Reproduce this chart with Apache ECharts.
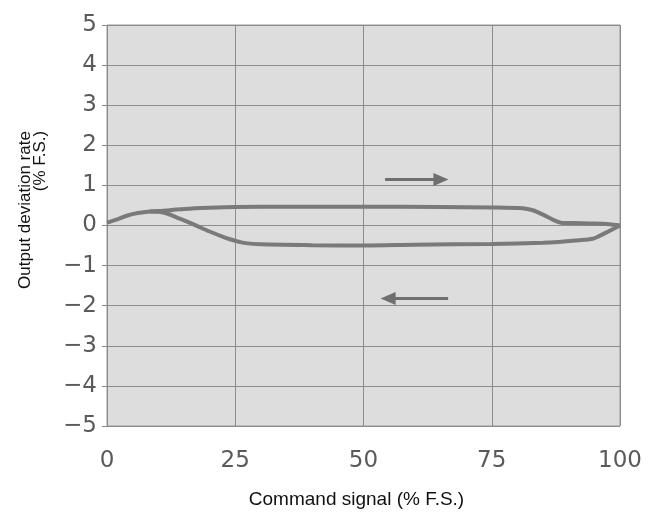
<!DOCTYPE html>
<html>
<head>
<meta charset="utf-8">
<script src="https://cdn.jsdelivr.net/npm/echarts@6/dist/echarts.min.js"></script>
<style>html,body{margin:0;padding:0;background:#fff}#c{width:659px;height:514px}</style>
</head>
<body>
<div id="c"></div>
<script>
// Forward sweep (0 -> 100 %), upper branch
const upX = [0, 2, 4, 6, 8.4, 11, 15, 20, 25, 35, 50, 65, 75, 81, 83, 85, 87, 88.5, 91, 95, 98, 100];
const upY = [0.07, 0.15, 0.25, 0.31, 0.35, 0.37, 0.41, 0.44, 0.46, 0.47, 0.47, 0.46, 0.45, 0.43, 0.38, 0.27, 0.14, 0.07, 0.06, 0.05, 0.03, 0];
// Return sweep (100 -> 0 %), lower branch
const downX = [100, 98, 96, 94.7, 92, 88, 85, 75, 60, 50, 40, 30, 27, 25, 23, 20, 17, 14, 11.7, 10, 8.4];
const downY = [0, -0.13, -0.26, -0.33, -0.37, -0.41, -0.43, -0.46, -0.48, -0.5, -0.49, -0.47, -0.44, -0.38, -0.3, -0.15, 0.02, 0.18, 0.3, 0.34, 0.35];
// Direction arrows (start, arrow-head centre)
const arrowRight = [[54.2, 1.15], [65.1, 1.15]];
const arrowLeft = [[66.5, -1.82], [54.8, -1.82]];
// Ticks
const xTicks = [0, 25, 50, 75, 100];
const yTicks = [-5, -4, -3, -2, -1, 0, 1, 2, 3, 4, 5];

const zip = (a, b) => a.map((v, i) => [v, b[i]]);
const chart = echarts.init(document.getElementById('c'));
const lineColor = '#7a7a7a';
chart.setOption({
  animation: false,
  backgroundColor: '#ffffff',
  grid: {left: 107, right: 39, top: 25, bottom: 88, containLabel: false, outerBoundsMode: 'none',
    show: true, backgroundColor: '#dddddd', borderColor: '#999999', borderWidth: 1},
  xAxis: {
    type: 'value', min: xTicks[0], max: xTicks[xTicks.length - 1], interval: 25,
    name: 'Command signal (% F.S.)', nameLocation: 'middle', nameGap: 64,
    nameTextStyle: {fontFamily: 'Liberation Sans', fontSize: 19, color: '#111111', padding: [0, 14, 0, 0]},
    axisLine: {show: false}, axisTick: {show: false},
    axisLabel: {margin: 24, fontFamily: 'DejaVu Sans', fontSize: 23, color: '#5a5a5a'},
    splitLine: {show: true, lineStyle: {color: '#8c8c8c', width: 1}}
  },
  yAxis: {
    type: 'value', min: yTicks[0], max: yTicks[yTicks.length - 1], interval: 1,
    axisLine: {show: false},
    axisTick: {show: true, inside: false, length: 5, lineStyle: {color: '#888888'}},
    axisLabel: {margin: 10, fontFamily: 'DejaVu Sans', fontSize: 23, color: '#5a5a5a',
      formatter: v => String(v).replace('-', '\u2212')},
    splitLine: {show: true, lineStyle: {color: '#8c8c8c', width: 1}}
  },
  graphic: [
    {type: 'text', x: 25, y: 210, rotation: Math.PI / 2,
      style: {text: 'Output deviation rate', fontFamily: 'Liberation Sans', fontSize: 17, fill: '#111111', align: 'center', verticalAlign: 'middle'}},
    {type: 'text', x: 40, y: 161, rotation: Math.PI / 2,
      style: {text: '(% F.S.)', fontFamily: 'Liberation Sans', fontSize: 17, fill: '#111111', align: 'center', verticalAlign: 'middle'}}
  ],
  series: [
    {type: 'line', data: zip(upX, upY), smooth: 0.3, showSymbol: false, symbol: 'none',
      lineStyle: {color: lineColor, width: 4}, z: 5},
    {type: 'line', data: zip(downX, downY), smooth: 0.3, showSymbol: false, symbol: 'none',
      lineStyle: {color: lineColor, width: 4}, z: 5},
    {type: 'line', data: [], silent: true,
      markLine: {silent: true, symbol: ['none', 'triangle'], symbolSize: [13, 15], label: {show: false},
        lineStyle: {color: '#6f6f6f', width: 3, type: 'solid'},
        itemStyle: {color: '#6f6f6f'},
        data: [
          [{coord: arrowRight[0]}, {coord: arrowRight[1]}],
          [{coord: arrowLeft[0]}, {coord: arrowLeft[1]}]
        ]}}
  ]
});
</script>
</body>
</html>
